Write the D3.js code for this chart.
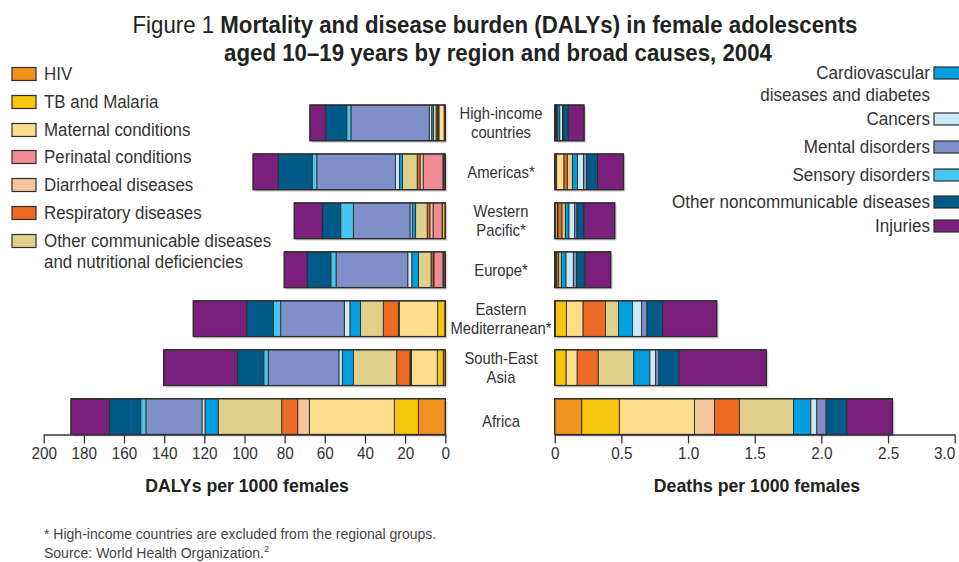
<!DOCTYPE html>
<html>
<head>
<meta charset="utf-8">
<script src="https://cdn.jsdelivr.net/npm/d3@7"></script>
<style>
  body { margin: 0; background: #fff; }
  svg { font-family: "Liberation Sans Narrow", "Arial Narrow", "Liberation Sans", sans-serif; }
  .tick text { font-size: 17px; fill: #333; }
  .tick line, .domain { stroke: #333; }
</style>
</head>
<body>
<div id="chart"></div>
<script>
// regions, top to bottom
const regions = ["High-income countries", "Americas*", "Western Pacific*", "Europe*",
                 "Eastern Mediterranean*", "South-East Asia", "Africa"];
const regionLines = [["High-income", "countries"], ["Americas*"], ["Western", "Pacific*"], ["Europe*"],
                     ["Eastern", "Mediterranean*"], ["South-East", "Asia"], ["Africa"]];

// causes, stacked outward from the axis
const causes = ["HIV", "TB and Malaria", "Maternal conditions", "Perinatal conditions",
                "Diarrhoeal diseases", "Respiratory diseases", "Other communicable diseases and nutritional deficiencies",
                "Cardiovascular diseases and diabetes", "Cancers", "Mental disorders", "Sensory disorders",
                "Other noncommunicable diseases", "Injuries"];
const causeColors = ["#f0931e", "#f6c510", "#fedd8c", "#f28c94", "#f3c6a0", "#ec6a24", "#e0d08a",
                     "#00a0e0", "#cde9f8", "#7f8fc8", "#48c8f0", "#005a87", "#7a1f7c"];

// DALYs per 1000 females, one array per region (cause order above)
const dalysHighIncome     = [0.3, 0.3, 2.6, 0.4, 0.2, 0.8, 1.4, 0.8, 1.2, 39.0, 2.1, 10.5, 7.8];
const dalysAmericas       = [0.6, 0.3, 0.3, 9.8, 1.6, 1.4, 7.3, 1.5, 2.0, 39.2, 2.3, 16.9, 12.5];
const dalysWesternPacific = [0.1, 1.3, 0.2, 4.5, 1.6, 1.3, 5.8, 1.7, 1.1, 28.2, 6.3, 9.0, 14.1];
const dalysEurope         = [0.7, 0.2, 0.3, 4.5, 0.3, 1.1, 6.3, 3.3, 2.0, 35.7, 2.6, 11.7, 11.5];
const dalysEasternMed     = [0.2, 3.6, 19.1, 0, 0.5, 7.5, 11.3, 5.3, 2.8, 31.7, 3.7, 13.2, 26.6];
const dalysSouthEastAsia  = [1.0, 3.0, 12.8, 0.4, 0.4, 6.6, 21.6, 5.5, 1.7, 35.2, 2.2, 13.2, 36.6];
const dalysAfrica         = [13.4, 12.0, 42.3, 0, 5.8, 8.0, 31.6, 6.6, 1.5, 27.9, 2.6, 15.6, 19.1];

// Deaths per 1000 females
const deathsHighIncome     = [0.002, 0.002, 0.006, 0.002, 0.001, 0.004, 0.005, 0.016, 0.02, 0.006, 0, 0.038, 0.118];
const deathsAmericas       = [0.005, 0.01, 0.055, 0, 0, 0.025, 0.038, 0.038, 0.045, 0.025, 0, 0.08, 0.195];
const deathsWesternPacific = [0.005, 0.015, 0.005, 0, 0, 0.03, 0.025, 0.027, 0.043, 0.017, 0, 0.053, 0.23];
const deathsEurope         = [0.005, 0.003, 0.003, 0, 0.004, 0.015, 0.02, 0.035, 0.055, 0.025, 0, 0.062, 0.193];
const deathsEasternMed     = [0.005, 0.083, 0.125, 0, 0, 0.168, 0.098, 0.105, 0.068, 0.04, 0, 0.118, 0.405];
const deathsSouthEastAsia  = [0.003, 0.083, 0.083, 0, 0, 0.158, 0.267, 0.12, 0.043, 0.025, 0, 0.15, 0.655];
const deathsAfrica         = [0.203, 0.282, 0.563, 0, 0.15, 0.188, 0.405, 0.13, 0.045, 0.07, 0, 0.155, 0.342];

const dalysTicks = [0, 20, 40, 60, 80, 100, 120, 140, 160, 180, 200];
const deathsTicks = [0, 0.5, 1.0, 1.5, 2.0, 2.5, 3.0];

const dalys = [dalysHighIncome, dalysAmericas, dalysWesternPacific, dalysEurope,
               dalysEasternMed, dalysSouthEastAsia, dalysAfrica];
const deaths = [deathsHighIncome, deathsAmericas, deathsWesternPacific, deathsEurope,
                deathsEasternMed, deathsSouthEastAsia, deathsAfrica];

const width = 959, height = 562;
const svg = d3.select("#chart").append("svg")
    .attr("width", width)
    .attr("height", height);

const y = d3.scaleBand().domain(regions).range([105, 434.5]).paddingInner(0.27);
const xLeft = d3.scaleLinear().domain([0, 200]).range([445.3, 43.7]);
const xRight = d3.scaleLinear().domain([0, 3]).range([554.7, 954.7]);

// no narrow font installed: squeeze the glyphs to look like the condensed original
function condense(sel, f) {
    sel.each(function () {
        const w = this.getComputedTextLength();
        d3.select(this).attr("textLength", w * f).attr("lengthAdjust", "spacingAndGlyphs");
    });
}

function toRows(values) {
    return regions.map((r, i) => {
        const row = { region: r };
        causes.forEach((c, j) => row[c] = values[i][j]);
        return row;
    });
}

function drawBars(values, x) {
    const series = d3.stack().keys(causes)(toRows(values));
    const g = svg.append("g");

    // faint shadow behind each bar
    g.selectAll("rect.shadow")
        .data(regions)
        .enter().append("rect")
        .attr("class", "shadow")
        .attr("x", (d, i) => Math.min(x(0), x(d3.sum(values[i]))) + 2)
        .attr("y", d => y(d) + 2)
        .attr("width", (d, i) => Math.abs(x(d3.sum(values[i])) - x(0)))
        .attr("height", y.bandwidth())
        .attr("fill", "#d4d4d4");

    g.selectAll("g.series")
        .data(series)
        .enter().append("g")
        .attr("class", "series")
        .attr("fill", (d, i) => causeColors[i])
        .selectAll("rect")
        .data(d => d)
        .enter().append("rect")
        .filter(d => d[1] - d[0] > 0)
        .attr("x", d => Math.min(x(d[0]), x(d[1])))
        .attr("y", d => y(d.data.region))
        .attr("width", d => Math.abs(x(d[1]) - x(d[0])))
        .attr("height", y.bandwidth())
        .attr("stroke", "#2e2e2e")
        .attr("stroke-width", 0.9);

    // outline
    g.selectAll("rect.outline")
        .data(regions)
        .enter().append("rect")
        .attr("class", "outline")
        .attr("x", (d, i) => Math.min(x(0), x(d3.sum(values[i]))))
        .attr("y", d => y(d))
        .attr("width", (d, i) => Math.abs(x(d3.sum(values[i])) - x(0)))
        .attr("height", y.bandwidth())
        .attr("fill", "none")
        .attr("stroke", "#2e2e2e")
        .attr("stroke-width", 1.3);
}

drawBars(dalys, xLeft);
drawBars(deaths, xRight);

// axes
const axisY = 434.5;
const leftAxis = svg.append("g")
    .attr("transform", "translate(0," + axisY + ")")
    .call(d3.axisBottom(xLeft).tickValues(dalysTicks).tickSize(9).tickSizeOuter(0).tickPadding(3).tickFormat(d3.format("d")));

const rightAxis = svg.append("g")
    .attr("transform", "translate(0," + axisY + ")")
    .call(d3.axisBottom(xRight).tickValues(deathsTicks).tickSize(9).tickSizeOuter(0).tickPadding(3)
        .tickFormat(d => d === 0 ? "0" : d3.format(".1f")(d)));
// last label pulled inside the page edge, as in the original
rightAxis.selectAll(".tick:last-of-type text").attr("text-anchor", "end").attr("dx", "0");

svg.selectAll(".domain").attr("stroke-width", 1.3);
svg.selectAll(".tick line").attr("stroke-width", 1.3);
condense(svg.selectAll(".tick text"), 0.9);

// axis titles
const axisTitles = svg.append("g")
    .attr("text-anchor", "middle")
    .attr("font-weight", "bold")
    .attr("font-size", 19)
    .attr("fill", "#222");
axisTitles.append("text").attr("x", 247).attr("y", 492).text("DALYs per 1000 females");
axisTitles.append("text").attr("x", 757).attr("y", 492).text("Deaths per 1000 females");
condense(axisTitles.selectAll("text"), 0.93);

// region labels
const labels = svg.append("g").attr("font-size", 17).attr("fill", "#333").attr("text-anchor", "middle");
regions.forEach((r, i) => {
    const lines = regionLines[i];
    const cy = y(r) + y.bandwidth() / 2 + (r === "Africa" ? 4 : 0);
    lines.forEach((t, k) => {
        labels.append("text")
            .attr("x", 501)
            .attr("y", cy + (k - (lines.length - 1) / 2) * 19)
            .attr("dy", "0.35em")
            .text(t);
    });
});
condense(labels.selectAll("text"), 0.87);

// title
const titles = svg.append("g")
    .attr("text-anchor", "middle")
    .attr("font-size", 24)
    .attr("fill", "#222");
const title = titles.append("text").attr("x", 495).attr("y", 33);
title.append("tspan").text("Figure 1 ");
title.append("tspan").attr("font-weight", "bold").text("Mortality and disease burden (DALYs) in female adolescents");
titles.append("text")
    .attr("x", 498).attr("y", 61)
    .attr("font-weight", "bold")
    .text("aged 10\u201319 years by region and broad causes, 2004");
condense(titles.selectAll("text"), 0.927);

// left legend (communicable causes)
const legendLeft = [
    { i: 0, y: 74, lines: ["HIV"] },
    { i: 1, y: 102, lines: ["TB and Malaria"] },
    { i: 2, y: 130, lines: ["Maternal conditions"] },
    { i: 3, y: 157, lines: ["Perinatal conditions"] },
    { i: 4, y: 185, lines: ["Diarrhoeal diseases"] },
    { i: 5, y: 213, lines: ["Respiratory diseases"] },
    { i: 6, y: 241, lines: ["Other communicable diseases", "and nutritional deficiencies"] }
];
const gl = svg.append("g").attr("font-size", 17.5).attr("fill", "#333");
legendLeft.forEach(d => {
    gl.append("rect")
        .attr("x", 12).attr("y", d.y - 6.5)
        .attr("width", 24).attr("height", 13)
        .attr("fill", causeColors[d.i])
        .attr("stroke", "#2e2e2e").attr("stroke-width", 1.2);
    d.lines.forEach((t, k) => {
        gl.append("text")
            .attr("x", 44).attr("y", d.y + k * 21)
            .attr("dy", "0.35em")
            .text(t);
    });
});
condense(gl.selectAll("text"), 0.965);

// right legend (noncommunicable causes)
const legendRight = [
    { i: 7, y: 73, lines: ["Cardiovascular", "diseases and diabetes"] },
    { i: 8, y: 119, lines: ["Cancers"] },
    { i: 9, y: 147, lines: ["Mental disorders"] },
    { i: 10, y: 175, lines: ["Sensory disorders"] },
    { i: 11, y: 202, lines: ["Other noncommunicable diseases"] },
    { i: 12, y: 226, lines: ["Injuries"] }
];
const gr = svg.append("g").attr("font-size", 17.5).attr("fill", "#333").attr("text-anchor", "end");
legendRight.forEach(d => {
    gr.append("rect")
        .attr("x", 934).attr("y", d.y - 6)
        .attr("width", 26).attr("height", 12)
        .attr("fill", causeColors[d.i])
        .attr("stroke", "#2e2e2e").attr("stroke-width", 1.2);
    d.lines.forEach((t, k) => {
        gr.append("text")
            .attr("x", 930).attr("y", d.y + k * 22)
            .attr("dy", "0.35em")
            .text(t);
    });
});
condense(gr.selectAll("text"), 0.975);

// footnotes
const notes = svg.append("g").attr("font-size", 14).attr("fill", "#444");
notes.append("text").attr("x", 44).attr("y", 539)
    .text("* High-income countries are excluded from the regional groups.");
const src = notes.append("text").attr("x", 44).attr("y", 558);
src.append("tspan").text("Source: World Health Organization.");
src.append("tspan").attr("font-size", 9).attr("dy", -6).text("2");
</script>
</body>
</html>
